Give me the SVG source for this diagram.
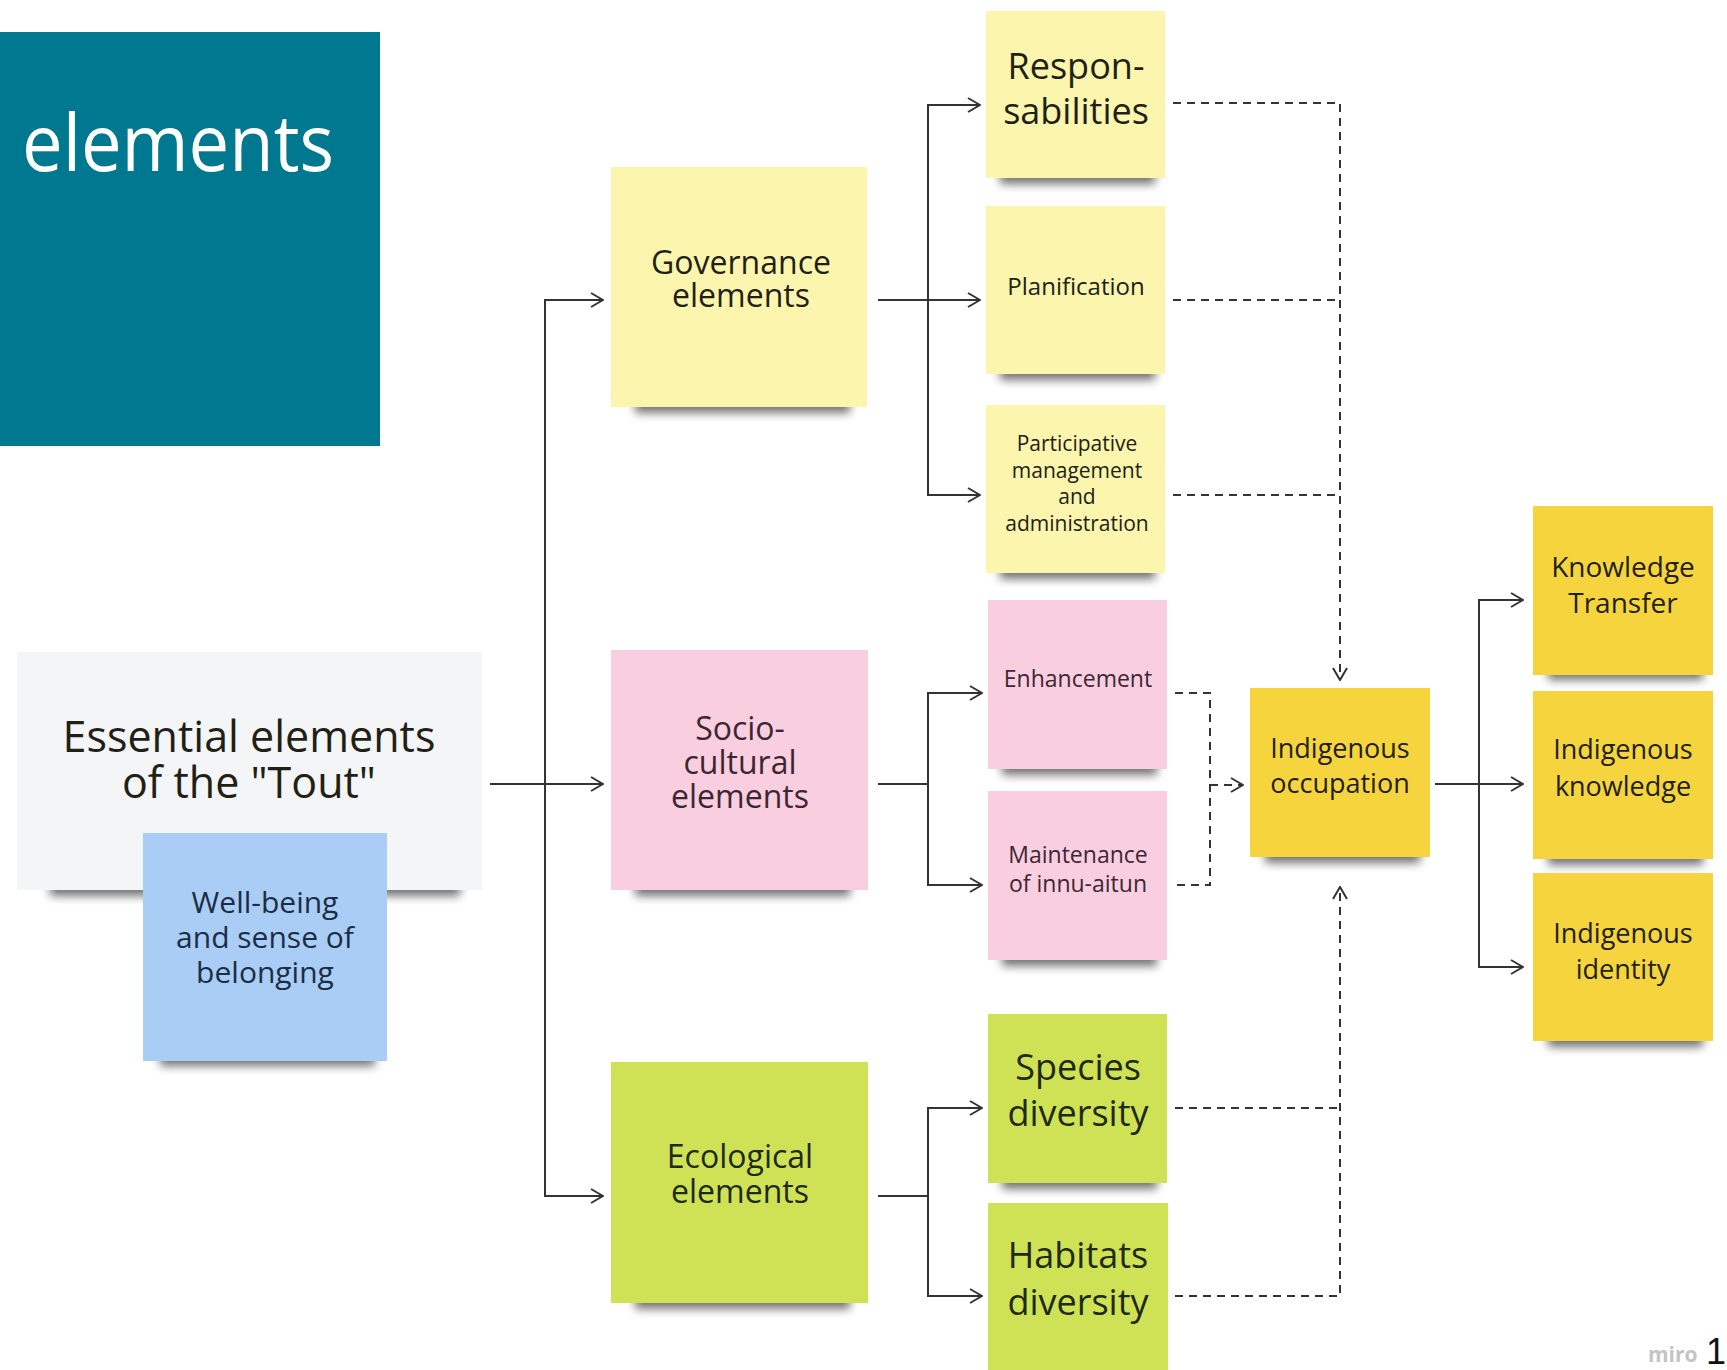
<svg xmlns="http://www.w3.org/2000/svg" width="1727" height="1370" viewBox="0 0 1727 1370">
<defs>
<filter id="blur" x="-20%" y="-100%" width="140%" height="300%"><feGaussianBlur stdDeviation="5"/></filter>
<marker id="arr" viewBox="0 0 14 16" refX="13" refY="8" markerWidth="14" markerHeight="16" markerUnits="userSpaceOnUse" orient="auto">
<path d="M1,1 L13,8 L1,15" fill="none" stroke="#333" stroke-width="2" stroke-dasharray="none"/>
</marker>
</defs>
<style>
.t{font-family:"Open Sans","Liberation Sans",sans-serif;text-anchor:middle;fill:#221f14}
.sh{fill:#000;opacity:.55;filter:url(#blur)}
.ly{fill:#fbf5ae}
.pk{fill:#f9cfe0}
.gr{fill:#cfe256}
.dy{fill:#f5d43e}
.bl{fill:#a9cdf4}
.wh{fill:#f4f5f7}
.c{fill:none;stroke:#333;stroke-width:2}
.d{fill:none;stroke:#333;stroke-width:2;stroke-dasharray:8 6}
</style>
<rect width="1727" height="1370" fill="#fff"/>

<g id="title">
<rect x="0" y="32" width="380" height="414" fill="#00788f"/>
<text x="22" y="171" font-family="Open Sans, Liberation Sans, sans-serif" font-size="78" fill="#fff" textLength="312" lengthAdjust="spacingAndGlyphs">elements</text>
</g>

<g id="connectors">
<path class="c" d="M490,784 H603" marker-end="url(#arr)"/>
<path class="c" d="M545,784 V300 H603" marker-end="url(#arr)"/>
<path class="c" d="M545,784 V1196 H603" marker-end="url(#arr)"/>
<path class="c" d="M878,300 H980" marker-end="url(#arr)"/>
<path class="c" d="M928,300 V105 H980" marker-end="url(#arr)"/>
<path class="c" d="M928,300 V495 H980" marker-end="url(#arr)"/>
<path class="c" d="M878,784 H928"/>
<path class="c" d="M928,784 V693 H982" marker-end="url(#arr)"/>
<path class="c" d="M928,784 V885 H982" marker-end="url(#arr)"/>
<path class="c" d="M878,1196 H928"/>
<path class="c" d="M928,1196 V1108 H982" marker-end="url(#arr)"/>
<path class="c" d="M928,1196 V1296 H982" marker-end="url(#arr)"/>
<path class="c" d="M1435,784 H1523" marker-end="url(#arr)"/>
<path class="c" d="M1479,784 V600 H1523" marker-end="url(#arr)"/>
<path class="c" d="M1479,784 V967 H1523" marker-end="url(#arr)"/>
<path class="d" d="M1173,103 H1340 V680" marker-end="url(#arr)"/>
<path class="d" d="M1173,300 H1340"/>
<path class="d" d="M1173,495 H1340"/>
<path class="d" d="M1175,693 H1210 V885 H1175"/>
<path class="d" d="M1210,785 H1243" marker-end="url(#arr)"/>
<path class="d" d="M1175,1108 H1340"/>
<path class="d" d="M1175,1296 H1340 V887" marker-end="url(#arr)"/>
</g>

<g id="essential">
<rect class="sh" x="50" y="870" width="410" height="26"/>
<rect class="wh" x="17" y="652" width="465" height="238"/>
<text class="t" font-size="43" x="249" y="752">Essential elements</text>
<text class="t" font-size="43" x="249" y="798">of the "Tout"</text>
</g>

<g id="wellbeing">
<rect class="sh" x="160" y="1040" width="215" height="26"/>
<rect class="bl" x="143" y="833" width="244" height="228"/>
<text class="t" font-size="30" x="265" y="913" style="fill:#1b2d45">Well-being</text>
<text class="t" font-size="30" x="265" y="948" style="fill:#1b2d45">and sense of</text>
<text class="t" font-size="30" x="265" y="983" style="fill:#1b2d45">belonging</text>
</g>

<g id="governance">
<rect class="sh" x="635" y="387" width="215" height="26"/>
<rect class="ly" x="611" y="167" width="256" height="240"/>
<text class="t" font-size="32" x="741" y="274">Governance</text>
<text class="t" font-size="32" x="741" y="307">elements</text>
</g>

<g id="sociocultural">
<rect class="sh" x="635" y="870" width="215" height="26"/>
<rect class="pk" x="611" y="650" width="257" height="240"/>
<text class="t" font-size="32" x="740" y="740" style="fill:#3d2634">Socio-</text>
<text class="t" font-size="32" x="740" y="774" style="fill:#3d2634">cultural</text>
<text class="t" font-size="32" x="740" y="808" style="fill:#3d2634">elements</text>
</g>

<g id="ecological">
<rect class="sh" x="635" y="1283" width="215" height="26"/>
<rect class="gr" x="611" y="1062" width="257" height="241"/>
<text class="t" font-size="32" x="740" y="1168" style="fill:#1e2a12">Ecological</text>
<text class="t" font-size="32" x="740" y="1203" style="fill:#1e2a12">elements</text>
</g>

<g id="responsabilities">
<rect class="sh" x="1000" y="160" width="155" height="24"/>
<rect class="ly" x="986" y="11" width="179" height="167"/>
<text class="t" font-size="36" x="1076" y="79">Respon-</text>
<text class="t" font-size="36" x="1076" y="124">sabilities</text>
</g>

<g id="planification">
<rect class="sh" x="1000" y="356" width="155" height="24"/>
<rect class="ly" x="986" y="206" width="179" height="168"/>
<text class="t" font-size="24" x="1076" y="295">Planification</text>
</g>

<g id="participative">
<rect class="sh" x="1000" y="555" width="155" height="24"/>
<rect class="ly" x="986" y="405" width="179" height="168"/>
<text class="t" font-size="21" x="1077" y="451">Participative</text>
<text class="t" font-size="21" x="1077" y="478">management</text>
<text class="t" font-size="21" x="1077" y="504">and</text>
<text class="t" font-size="21" x="1077" y="531">administration</text>
</g>

<g id="enhancement">
<rect class="sh" x="1002" y="751" width="155" height="24"/>
<rect class="pk" x="988" y="600" width="179" height="169"/>
<text class="t" font-size="23" x="1078" y="687" style="fill:#3d2634">Enhancement</text>
</g>

<g id="maintenance">
<rect class="sh" x="1002" y="942" width="155" height="24"/>
<rect class="pk" x="988" y="791" width="179" height="169"/>
<text class="t" font-size="23" x="1078" y="863" style="fill:#3d2634">Maintenance</text>
<text class="t" font-size="23" x="1078" y="892" style="fill:#3d2634">of innu-aitun</text>
</g>

<g id="species">
<rect class="sh" x="1002" y="1165" width="155" height="24"/>
<rect class="gr" x="988" y="1014" width="179" height="169"/>
<text class="t" font-size="36" x="1078" y="1080" style="fill:#1e2a12">Species</text>
<text class="t" font-size="36" x="1078" y="1126" style="fill:#1e2a12">diversity</text>
</g>

<g id="habitats">
<rect class="gr" x="988" y="1203" width="180" height="172"/>
<text class="t" font-size="36" x="1078" y="1268" style="fill:#1e2a12">Habitats</text>
<text class="t" font-size="36" x="1078" y="1315" style="fill:#1e2a12">diversity</text>
</g>

<g id="occupation">
<rect class="sh" x="1265" y="839" width="155" height="24"/>
<rect class="dy" x="1250" y="688" width="180" height="169"/>
<text class="t" font-size="27" x="1340" y="758">Indigenous</text>
<text class="t" font-size="27" x="1340" y="793">occupation</text>
</g>

<g id="knowledgetransfer">
<rect class="sh" x="1548" y="656" width="155" height="24"/>
<rect class="dy" x="1533" y="506" width="180" height="169"/>
<text class="t" font-size="28" x="1623" y="577">Knowledge</text>
<text class="t" font-size="28" x="1623" y="613">Transfer</text>
</g>

<g id="indigenousknowledge">
<rect class="sh" x="1548" y="841" width="155" height="24"/>
<rect class="dy" x="1533" y="691" width="180" height="168"/>
<text class="t" font-size="27" x="1623" y="759">Indigenous</text>
<text class="t" font-size="27" x="1623" y="796">knowledge</text>
</g>

<g id="indigenousidentity">
<rect class="sh" x="1548" y="1023" width="155" height="24"/>
<rect class="dy" x="1533" y="873" width="180" height="168"/>
<text class="t" font-size="27" x="1623" y="943">Indigenous</text>
<text class="t" font-size="27" x="1623" y="979">identity</text>
</g>

<g id="footer">
<text x="1648" y="1362" font-family="Open Sans, Liberation Sans, sans-serif" font-size="21" font-weight="bold" fill="#c4c4c4">miro</text>
<text x="1706" y="1364" font-family="Liberation Sans, sans-serif" font-size="36" fill="#111">1</text>
</g>
</svg>
